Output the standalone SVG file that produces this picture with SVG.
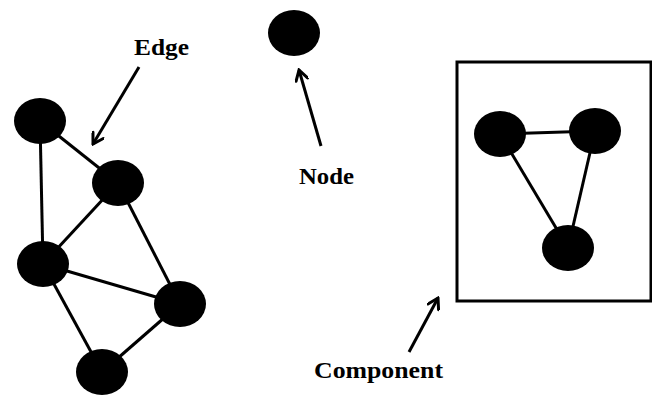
<svg xmlns="http://www.w3.org/2000/svg" width="652" height="396" viewBox="0 0 652 396">
  <style>
    .node { fill: #000; }
    .edge { stroke: #000; stroke-width: 3; fill: none; }
    .pointer { stroke: #000; stroke-width: 3; fill: none; marker-end: url(#open-arrow); }
    .label { font-family: "Liberation Serif", "Times New Roman", serif; font-weight: bold; font-size: 24px; fill: #000; }
    .frame { fill: none; stroke: #000; stroke-width: 3; }
  </style>
  <defs>
    <marker id="open-arrow" viewBox="0 0 14 14" refX="12" refY="7" markerWidth="14" markerHeight="14" markerUnits="userSpaceOnUse" orient="auto">
      <path d="M2,1 L12,7 L2,13" fill="none" stroke="#000" stroke-width="3" stroke-linecap="round" stroke-linejoin="miter"/>
    </marker>
  </defs>

  <rect width="652" height="396" fill="#fff"/>

  <!-- connectors -->
  <g id="connectors">
    <!-- left graph -->
    <line class="edge" x1="40" y1="121" x2="43" y2="264"/>
    <line class="edge" x1="40" y1="121" x2="118" y2="183"/>
    <line class="edge" x1="118" y1="183" x2="43" y2="264"/>
    <line class="edge" x1="118" y1="183" x2="180" y2="304"/>
    <line class="edge" x1="43" y1="264" x2="180" y2="304"/>
    <line class="edge" x1="43" y1="264" x2="102" y2="372"/>
    <line class="edge" x1="180" y1="304" x2="102" y2="372"/>
    <!-- component graph -->
    <line class="edge" x1="500" y1="134" x2="595" y2="131"/>
    <line class="edge" x1="500" y1="134" x2="568" y2="248"/>
    <line class="edge" x1="595" y1="131" x2="568" y2="248"/>
    <!-- label pointers -->
    <line class="pointer" x1="139" y1="67" x2="93" y2="144"/>
    <line class="pointer" x1="321" y1="146" x2="299" y2="70"/>
    <line class="pointer" x1="409" y1="352" x2="438" y2="298"/>
  </g>

  <!-- component frame -->
  <rect class="frame" x="457" y="62" width="194" height="239"/>

  <g id="node-a"><ellipse class="node" cx="40" cy="121" rx="26" ry="23"/></g>
  <g id="node-b"><ellipse class="node" cx="118" cy="183" rx="26" ry="23"/></g>
  <g id="node-d"><ellipse class="node" cx="43" cy="264" rx="26" ry="23"/></g>
  <g id="node-e"><ellipse class="node" cx="180" cy="304" rx="26" ry="23"/></g>
  <g id="node-f"><ellipse class="node" cx="102" cy="372" rx="26" ry="23"/></g>
  <g id="node-single"><ellipse class="node" cx="294" cy="33" rx="26" ry="23"/></g>
  <g id="node-c1"><ellipse class="node" cx="500" cy="134" rx="26" ry="23"/></g>
  <g id="node-c2"><ellipse class="node" cx="595" cy="131" rx="26" ry="23"/></g>
  <g id="node-c3"><ellipse class="node" cx="568" cy="248" rx="26" ry="23"/></g>

  <g id="labels">
    <text class="label" x="134" y="55" textLength="55" lengthAdjust="spacingAndGlyphs">Edge</text>
    <text class="label" x="299" y="184" textLength="55" lengthAdjust="spacingAndGlyphs">Node</text>
    <text class="label" x="314" y="378" textLength="129" lengthAdjust="spacingAndGlyphs">Component</text>
  </g>
</svg>
